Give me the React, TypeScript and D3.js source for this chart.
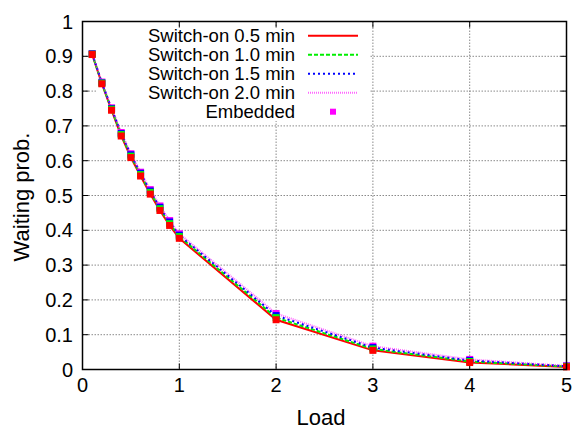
import React from "react";
import * as d3 from "d3";

const loads = [0.1, 0.2, 0.3, 0.4, 0.5, 0.6, 0.7, 0.8, 0.9, 1, 2, 3, 4, 5];
const sw05 = [0.905, 0.821, 0.745, 0.671, 0.609, 0.556, 0.504, 0.457, 0.414, 0.377, 0.143, 0.055, 0.020, 0.0075];
const sw10 = [0.906, 0.823, 0.748, 0.675, 0.613, 0.560, 0.509, 0.462, 0.419, 0.382, 0.149, 0.059, 0.023, 0.0085];
const sw15 = [0.907, 0.824, 0.750, 0.678, 0.617, 0.564, 0.513, 0.466, 0.424, 0.386, 0.155, 0.063, 0.026, 0.0095];
const sw20 = [0.908, 0.826, 0.752, 0.681, 0.620, 0.567, 0.517, 0.470, 0.428, 0.390, 0.161, 0.067, 0.029, 0.0105];
const seriesNames = ["Switch-on 0.5 min", "Switch-on 1.0 min", "Switch-on 1.5 min", "Switch-on 2.0 min"];
const embeddedName = "Embedded";
const xTicks = [0, 1, 2, 3, 4, 5];
const yTicks = [0, 0.1, 0.2, 0.3, 0.4, 0.5, 0.6, 0.7, 0.8, 0.9, 1];

const series = [
  { name: seriesNames[0], values: sw05, color: "#ff0000", dash: "none", width: 2, opacity: 1 },
  { name: seriesNames[1], values: sw10, color: "#00ee00", dash: "4,2", width: 2, opacity: 1 },
  { name: seriesNames[2], values: sw15, color: "#0000ff", dash: "2,3", width: 2, opacity: 1 },
  { name: seriesNames[3], values: sw20, color: "#ff00ff", dash: "1,1", width: 2, opacity: 0.6 },
];

const FONT = "'Liberation Sans', Arial, sans-serif";

export default function App() {
  const L = 82.5, R = 566.5, T = 21.5, B = 369.5;
  const x = d3.scaleLinear().domain([0, 5]).range([L, R]);
  const y = d3.scaleLinear().domain([0, 1]).range([B, T]);
  const line = d3.line<number>().x((_, i) => x(loads[i])).y((v) => y(v));
  const ms = 7;
  const tick = 6;

  return (
    <svg width={576} height={430} style={{ position: "absolute", left: 0, top: 0, display: "block", background: "#fff" }} fontFamily={FONT}>
      <rect x={0} y={0} width={576} height={430} fill="#fff" />
      {/* grid */}
      <g stroke="#8a8a8a" strokeWidth={1} strokeDasharray="1.5,1.5">
        {xTicks.slice(1, -1).map((t) => (
          <line key={"gx" + t} x1={x(t)} x2={x(t)} y1={T} y2={B} />
        ))}
        {yTicks.slice(1, -1).map((t) => (
          <line key={"gy" + t} x1={L} x2={R} y1={y(t)} y2={y(t)} />
        ))}
      </g>
      {/* key background */}
      <rect x={96} y={27} width={273} height={94} fill="#fff" />
      {/* ticks */}
      <g stroke="#000" strokeWidth={1}>
        {xTicks.map((t) => (
          <g key={"tx" + t}>
            <line x1={x(t)} x2={x(t)} y1={B} y2={B - tick} />
            <line x1={x(t)} x2={x(t)} y1={T} y2={T + tick} />
          </g>
        ))}
        {yTicks.map((t) => (
          <g key={"ty" + t}>
            <line x1={L} x2={L + tick} y1={y(t)} y2={y(t)} />
            <line x1={R} x2={R - tick} y1={y(t)} y2={y(t)} />
          </g>
        ))}
      </g>
      {/* data lines */}
      {series.map((s) => (
        <path key={s.name} d={line(s.values) || ""} fill="none" stroke={s.color} strokeWidth={s.width}
          strokeDasharray={s.dash} strokeOpacity={s.opacity} />
      ))}
      {/* markers: drawn magenta first, red last */}
      {[...series].reverse().map((s) => (
        <g key={"m" + s.name} fill={s.color === "#00ee00" ? "#00ff00" : s.color}>
          {s.values.map((v, i) => (
            <rect key={i} x={x(loads[i]) - ms / 2} y={y(v) - ms / 2} width={ms} height={ms} />
          ))}
        </g>
      ))}
      {/* border */}
      <rect x={L} y={T} width={R - L} height={B - T} fill="none" stroke="#000" strokeWidth={1.5} />
      {/* tick labels */}
      <g fontSize={20} fill="#000">
        {xTicks.map((t) => (
          <text key={"lx" + t} x={x(t)} y={391.5} textAnchor="middle">{t}</text>
        ))}
        {yTicks.map((t) => (
          <text key={"ly" + t} x={73} y={y(t)} textAnchor="end" dominantBaseline="central">{t}</text>
        ))}
      </g>
      {/* axis titles */}
      <text x={321} y={425} fontSize={22} textAnchor="middle">Load</text>
      <text transform="translate(29,197) rotate(-90)" fontSize={22} textAnchor="middle">Waiting prob.</text>
      {/* legend */}
      <g fontSize={18.5}>
        {series.map((s, i) => (
          <g key={"lg" + s.name}>
            <text x={295} y={35.7 + 19 * i} textAnchor="end" dominantBaseline="central">{s.name}</text>
            <line x1={308} x2={358} y1={35.7 + 19 * i} y2={35.7 + 19 * i} stroke={s.color}
              strokeWidth={s.width} strokeDasharray={s.dash} strokeOpacity={s.opacity} />
          </g>
        ))}
        <text x={295} y={35.7 + 19 * 4} textAnchor="end" dominantBaseline="central">{embeddedName}</text>
        <rect x={333 - 3} y={35.7 + 19 * 4 - 3} width={6} height={6} fill="#ff00ff" />
      </g>
    </svg>
  );
}
